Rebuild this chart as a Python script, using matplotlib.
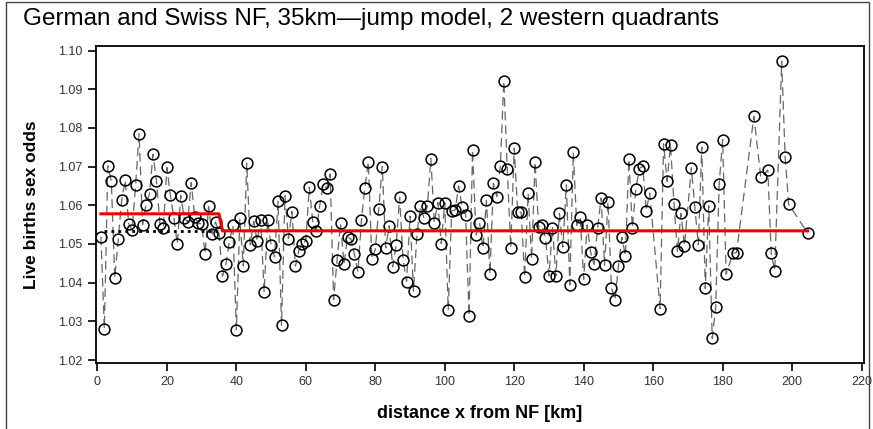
import matplotlib
matplotlib.use("Agg")
import matplotlib.pyplot as plt
from matplotlib.patches import Rectangle

plt.rcParams['font.family'] = ['Liberation Sans', 'DejaVu Sans']

# distance from NF [km]
dist = list(range(1, 160)) + [162, 163, 164, 165, 166, 167, 168, 169, 171, 172, 173,
                              174, 175, 176, 177, 178, 179, 180, 181, 183, 184, 189,
                              191, 193, 194, 195, 197, 198, 199, 204.5]

# live births sex odds
odds = [
    1.0519, 1.0281, 1.0702, 1.0663, 1.0412, 1.0512, 1.0614, 1.0665, 1.0552, 1.0536,
    1.0653, 1.0785, 1.0550, 1.0602, 1.0630, 1.0732, 1.0664, 1.0552, 1.0542, 1.0698,
    1.0627, 1.0567, 1.0500, 1.0625, 1.0566, 1.0557, 1.0659, 1.0571, 1.0553, 1.0552,
    1.0475, 1.0597, 1.0526, 1.0557, 1.0529, 1.0417, 1.0448, 1.0506, 1.0548, 1.0278,
    1.0566, 1.0443, 1.0709, 1.0498, 1.0559, 1.0507, 1.0563, 1.0375, 1.0561, 1.0497,
    1.0467, 1.0610, 1.0290, 1.0625, 1.0514, 1.0584, 1.0443, 1.0483, 1.0500, 1.0509,
    1.0647, 1.0557, 1.0533, 1.0599, 1.0654, 1.0644, 1.0681, 1.0356, 1.0459, 1.0553,
    1.0448, 1.0519, 1.0512, 1.0473, 1.0427, 1.0561, 1.0646, 1.0712, 1.0461, 1.0486,
    1.0591, 1.0700, 1.0490, 1.0547, 1.0441, 1.0497, 1.0621, 1.0459, 1.0403, 1.0572,
    1.0378, 1.0526, 1.0597, 1.0567, 1.0598, 1.0721, 1.0555, 1.0607, 1.0501, 1.0607,
    1.0329, 1.0586, 1.0588, 1.0650, 1.0595, 1.0576, 1.0314, 1.0743, 1.0523, 1.0555,
    1.0489, 1.0613, 1.0422, 1.0657, 1.0622, 1.0702, 1.0921, 1.0693, 1.0490, 1.0748,
    1.0582, 1.0582, 1.0414, 1.0631, 1.0461, 1.0712, 1.0544, 1.0548, 1.0516, 1.0418,
    1.0542, 1.0418, 1.0579, 1.0492, 1.0653, 1.0394, 1.0737, 1.0548, 1.0569, 1.0409,
    1.0549, 1.0479, 1.0447, 1.0541, 1.0619, 1.0445, 1.0609, 1.0387, 1.0355, 1.0443,
    1.0517, 1.0469, 1.0719, 1.0542, 1.0641, 1.0695, 1.0702, 1.0586, 1.0632,
    1.0333, 1.0759, 1.0662, 1.0755, 1.0603, 1.0481, 1.0579, 1.0495, 1.0697, 1.0595,
    1.0498, 1.0750, 1.0385, 1.0599, 1.0256, 1.0336, 1.0655, 1.0770, 1.0422, 1.0476,
    1.0478, 1.0830, 1.0672, 1.0691, 1.0476, 1.0430, 1.0973, 1.0724, 1.0603, 1.0528,
]

# jump model (red) and overall mean (dotted) near NF
jump_x = [1, 35, 36, 204.5]
jump_y = [1.0578, 1.0578, 1.0534, 1.0534]
mean_x = [2, 35]
mean_y = [1.0534, 1.0534]

xticks = list(range(0, 221, 20))
yticks = [1.02, 1.03, 1.04, 1.05, 1.06, 1.07, 1.08, 1.09, 1.10]

fig = plt.figure(figsize=(8.73, 4.29), dpi=100)
ax = fig.add_axes([0.1096, 0.1545, 0.8801, 0.7383])

ax.plot(dist, odds, color='#666666', lw=0.9, ls=(0, (7, 4)), zorder=2)
ax.plot(dist, odds, ls='none', marker='o', ms=7.8, mfc='none', mec='black',
        mew=1.1, zorder=3)
ax.plot(mean_x, mean_y, color='black', lw=2, ls=(0, (1, 1.5)), zorder=4)
ax.plot(jump_x, jump_y, color='#ee0000', lw=2.2, zorder=5)

ax.set_xlim(-0.5, 220.7)
ax.set_ylim(1.0193, 1.1012)
ax.set_xticks(xticks)
ax.set_yticks(yticks)
ax.set_yticklabels(['%.2f' % t for t in yticks])
ax.tick_params(direction='out', length=6, width=1.2, labelsize=9,
               labelcolor='#333333', top=False, right=False)
for s in ax.spines.values():
    s.set_linewidth(1.3)

ax.set_xlabel('distance x from NF [km]', fontsize=13, fontweight='bold', labelpad=12)
ax.set_ylabel('Live births sex odds', fontsize=12.5, fontweight='bold', labelpad=14)

fig.text(0.026, 0.955, 'German and Swiss NF, 35km\u2014jump model, 2 western quadrants',
         fontsize=17.5, ha='left', va='center')

fig.patches.append(Rectangle((0.007, -0.05), 0.988, 1.045, transform=fig.transFigure,
                             fill=False, edgecolor='#444444', lw=1.0))

fig.savefig('out.png', dpi=100)
